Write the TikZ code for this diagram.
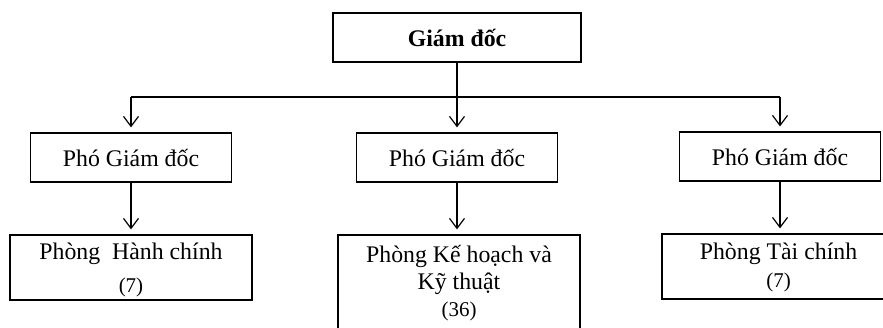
\documentclass[tikz,border=0pt]{standalone}
\usepackage{fontspec}
\setmainfont{Liberation Serif}
\usetikzlibrary{arrows.meta}
\newcommand{\smalltxt}[1]{{\fontsize{21}{24}\selectfont #1}}
\begin{document}
\begin{tikzpicture}[x=1pt,y=-1pt,
  box/.style={draw,line width=1.2pt,inner sep=0pt,align=center,
    font=\fontsize{23.8}{27}\selectfont},
  conn/.style={line width=1.2pt},
  arr/.style={conn,-{Straight Barb[length=10pt,width=15pt,line width=1.2pt]},shorten >=5pt}]
\useasboundingbox (0,0) rectangle (883,327);
\clip (0,0) rectangle (883,327);
% top
\node[box,minimum width=248pt,minimum height=49pt] (gd) at (457,37.5) {\textbf{Giám đốc}};
% row 2
\node[box,minimum width=201pt,minimum height=49pt] (p1) at (131,157.5) {Phó Giám đốc};
\node[box,minimum width=201pt,minimum height=49pt] (p2) at (457,157.5) {Phó Giám đốc};
\node[box,minimum width=201pt,minimum height=49pt] (p3) at (780,156.5) {Phó Giám đốc};
% row 3
\node[box,minimum width=242pt,minimum height=65pt] (r1) at (131,267.5)
  {\rule{0pt}{21.8pt}Phòng\ \ Hành chính\\[6pt]\smalltxt{(7)}};
\node[box,minimum width=242pt,minimum height=100pt] (r2) at (459,285)
  {Phòng Kế hoạch và\\Kỹ thuật\\\smalltxt{(36)}\rule[-9pt]{0pt}{0pt}};
\node[box,minimum width=233pt,minimum height=65pt] (r3) at (778.5,266.5)
  {\rule{0pt}{18.8pt}Phòng Tài chính\\[1pt]\smalltxt{(7)}};
% connectors
\coordinate (bl) at (131,97);
\coordinate (br) at (780,97);
\draw[conn] (bl) -- (br);
\draw[arr] (gd.south) -- (p2.north);
\draw[arr] (bl) -- (p1.north);
\draw[arr] (br) -- (p3.north);
\draw[arr] (p1.south) -- (p1.south |- r1.north);
\draw[arr] (p2.south) -- (p2.south |- r2.north);
\draw[arr] (p3.south) -- (p3.south |- r3.north);
\end{tikzpicture}
\end{document}
